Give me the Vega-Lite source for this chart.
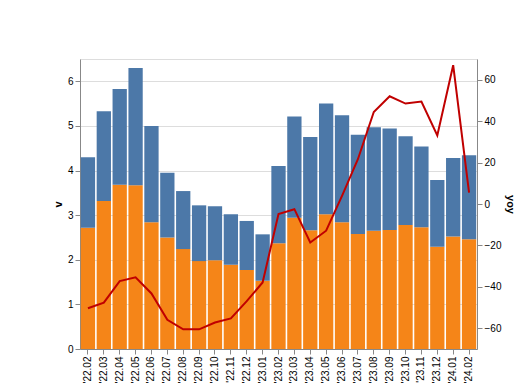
{
  "$schema": "https://vega.github.io/schema/vega-lite/v6.json",
  "width": 397,
  "height": 290,
  "padding": {"left": 52, "top": 59, "right": 82, "bottom": 41},
  "data": {
    "values": [
      {"m": "'22.02", "cap": 1.58, "noncap": 2.72, "yoy": -50.3},
      {"m": "'22.03", "cap": 2.01, "noncap": 3.32, "yoy": -47.6},
      {"m": "'22.04", "cap": 2.15, "noncap": 3.68, "yoy": -37.2},
      {"m": "'22.05", "cap": 2.63, "noncap": 3.67, "yoy": -35.4},
      {"m": "'22.06", "cap": 2.16, "noncap": 2.84, "yoy": -43.2},
      {"m": "'22.07", "cap": 1.45, "noncap": 2.50, "yoy": -55.9},
      {"m": "'22.08", "cap": 1.30, "noncap": 2.24, "yoy": -60.5},
      {"m": "'22.09", "cap": 1.25, "noncap": 1.97, "yoy": -60.5},
      {"m": "'22.10", "cap": 1.21, "noncap": 1.99, "yoy": -57.2},
      {"m": "'22.11", "cap": 1.13, "noncap": 1.89, "yoy": -55.2},
      {"m": "'22.12", "cap": 1.10, "noncap": 1.77, "yoy": -46.9},
      {"m": "'23.01", "cap": 1.04, "noncap": 1.53, "yoy": -37.9},
      {"m": "'23.02", "cap": 1.73, "noncap": 2.37, "yoy": -4.8},
      {"m": "'23.03", "cap": 2.27, "noncap": 2.94, "yoy": -2.5},
      {"m": "'23.04", "cap": 2.09, "noncap": 2.66, "yoy": -18.6},
      {"m": "'23.05", "cap": 2.48, "noncap": 3.02, "yoy": -12.9},
      {"m": "'23.06", "cap": 2.40, "noncap": 2.84, "yoy": 3.9},
      {"m": "'23.07", "cap": 2.22, "noncap": 2.58, "yoy": 21.6},
      {"m": "'23.08", "cap": 2.32, "noncap": 2.65, "yoy": 44.4},
      {"m": "'23.09", "cap": 2.27, "noncap": 2.67, "yoy": 52.0},
      {"m": "'23.10", "cap": 1.99, "noncap": 2.78, "yoy": 48.5},
      {"m": "'23.11", "cap": 1.81, "noncap": 2.73, "yoy": 49.5},
      {"m": "'23.12", "cap": 1.50, "noncap": 2.29, "yoy": 33.1},
      {"m": "'24.01", "cap": 1.76, "noncap": 2.52, "yoy": 67.0},
      {"m": "'24.02", "cap": 1.88, "noncap": 2.46, "yoy": 5.5}
    ]
  },
  "layer": [
    {
      "transform": [{"fold": ["noncap", "cap"], "as": ["region", "v"]}],
      "mark": {"type": "bar"},
      "encoding": {
        "x": {"field": "m", "type": "ordinal", "sort": null},
        "y": {"field": "v", "type": "quantitative"},
        "fill": {"field": "region", "type": "nominal"}
      }
    },
    {
      "mark": {"type": "line", "color": "#c00000"},
      "encoding": {
        "x": {"field": "m", "type": "ordinal", "sort": null},
        "y": {"field": "yoy", "type": "quantitative", "axis": {"orient": "right"}}
      }
    }
  ],
  "resolve": {"scale": {"y": "independent"}}
}
